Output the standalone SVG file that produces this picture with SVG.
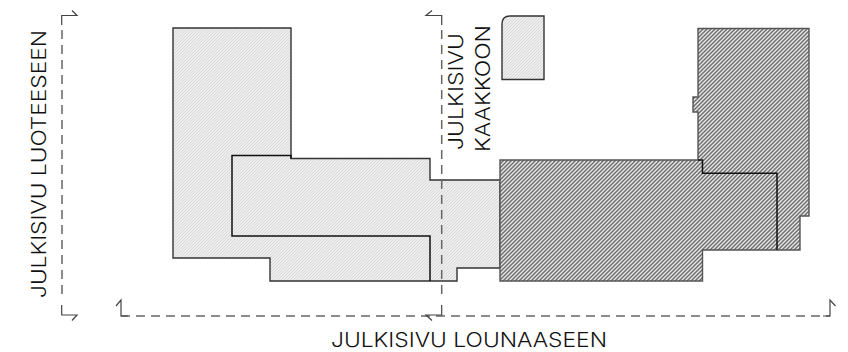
<svg xmlns="http://www.w3.org/2000/svg" width="848" height="352" viewBox="0 0 848 352">
<style>
.l{fill:url(#hl);stroke:#333;stroke-width:1.4}
.d{fill:url(#hd);stroke:#555;stroke-width:1.4}
.i{fill:none;stroke:#111;stroke-width:1.5}
.c{fill:none;stroke:#666;stroke-width:1.5;stroke-dasharray:9 6}
.s{fill:none;stroke:#444;stroke-width:1.2}
text{font-family:"Inter","DejaVu Sans",sans-serif;font-size:20px;font-weight:300;fill:#111}
</style>
<defs>
<pattern id="hl" width="3" height="3" patternUnits="userSpaceOnUse">
<rect width="3" height="3" fill="#ededed"/><path d="M-1 1L1 -1M0 3L3 0M2 4L4 2" stroke="#d4d4d4" stroke-width="0.8"/>
</pattern>
<pattern id="hd" width="4" height="4" patternUnits="userSpaceOnUse">
<rect width="4" height="4" fill="#e8e8e8"/><path d="M-1 1L1 -1M0 4L4 0M3 5L5 3" stroke="#707070" stroke-width="1.5"/>
</pattern>
</defs>
<g id="building-northwest">
<path class="l" d="M173 28H291V158.500H430V180H500V268H457V281H270V258H173Z"/>
<path class="i" d="M291 158.500V155.500H232V236H430V281"/>
</g>
<g id="building-detached">
<path class="l" d="M502 79.500V24Q502 16 510 16H544V79.500Z"/>
</g>
<g id="building-southeast">
<path class="d" d="M698 28.500H809V216H800V250H702.500V281H500V160H698V112H693V97H698Z"/>
<path class="i" d="M698 160H702.500V173.300H777V250"/>
</g>
<g id="connectors">
<path class="c" d="M121 316H830"/>
<path class="c" d="M62 30V300"/>
<path class="c" d="M441.700 30V300"/>
<path class="s" d="M116 306L121 300V316H128M835.500 306L830 300V316H823"/>
<path class="s" d="M72 10.500L77 15.500H61.700V25M72 320.500L77 315H61.700V305"/>
<path class="s" d="M432 10.500L426 15.500H441.700V25M432 320.500L426 315H441.700V305"/>
</g>
<g id="labels">
<text x="331" y="347" textLength="276" lengthAdjust="spacingAndGlyphs">JULKISIVU LOUNAASEEN</text>
<text transform="translate(46 298) rotate(-90)" textLength="268" lengthAdjust="spacingAndGlyphs">JULKISIVU LUOTEESEEN</text>
<text transform="translate(463 150) rotate(-90)" textLength="117" lengthAdjust="spacingAndGlyphs">JULKISIVU</text>
<text transform="translate(490 152) rotate(-90)" textLength="127" lengthAdjust="spacingAndGlyphs">KAAKKOON</text>
</g>
</svg>
